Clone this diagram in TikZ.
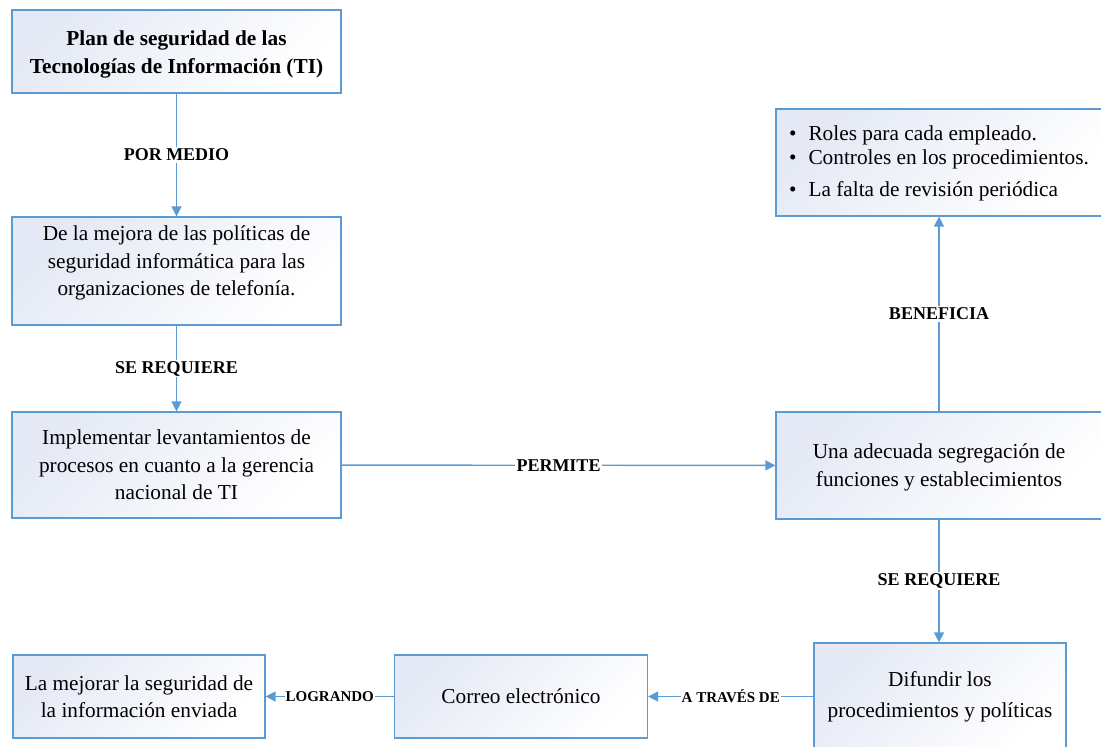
\documentclass[tikz,border=0pt]{standalone}
\usepackage{fontspec}
\setmainfont{Liberation Serif}
\usetikzlibrary{arrows.meta,calc}
\definecolor{edgeblue}{HTML}{5B9BD5}
\definecolor{boxtint}{HTML}{E4E9F5}
\tikzset{
  box/.style={draw=edgeblue, line width=1.2pt, top color=boxtint, bottom color=white,
    shading angle=45, align=center, inner sep=4pt,
    font=\fontsize{21.3}{27.5}\selectfont},
  boxtext/.style={align=center, inner sep=0pt, font=\fontsize{21.3}{27.5}\selectfont},
  link/.style={draw=edgeblue, line width=1.4pt, -{Triangle[length=10pt,width=10pt]}},
  tag/.style={fill=white, inner sep=1.5pt, font=\fontsize{18}{20}\selectfont\bfseries},
  smalltag/.style={fill=white, inner sep=1pt, font=\fontsize{15}{17}\selectfont\bfseries},
}
\begin{document}
\begin{tikzpicture}[x=1pt,y=-1pt]
\useasboundingbox (0,0) rectangle (1101,747);

% left column
\node[box, minimum width=329pt, minimum height=83pt] (plan) at (176.5,51.5) {};
\node[boxtext, font=\fontsize{21.3}{28}\selectfont\bfseries] (plantxt) at ($(plan.center)+(0,3)$)
  {Plan de seguridad de las\\Tecnologías de Información (TI)};
\node[box, minimum width=329pt, minimum height=108pt] (mejora) at (176.5,271) {};
\node[boxtext] (mejoratxt) at ($(mejora.center)+(0,-8)$)
  {De la mejora de las políticas de\\seguridad informática para las\\organizaciones de telefonía.};
\node[box, minimum width=329pt, minimum height=106pt] (impl) at (176.5,465)
  {Implementar levantamientos de\\procesos en cuanto a la gerencia\\nacional de TI};

% right column
\node[box, minimum width=326pt, minimum height=107pt] (segr) at (939,465.5) {};
\node[boxtext] (segrtxt) at ($(segr.center)+(0,2)$)
  {Una adecuada segregación de\\funciones y establecimientos};
\node[box, minimum width=326pt, minimum height=107pt, align=left] (roles) at (939,162.5)
  {\begin{tabular}{@{}l@{\hspace{12pt}}l@{}}
   •&Roles para cada empleado.\\[-3pt]
   •&Controles en los procedimientos.\\[4pt]
   •&La falta de revisión periódica
   \end{tabular}};
\node[box, minimum width=252pt, minimum height=108pt] (difu) at (940,697) {};
\node[boxtext, font=\fontsize{21.3}{31}\selectfont] (difutxt) at (difu.center)
  {Difundir los\\procedimientos y políticas};

% bottom row
\node[box, minimum width=253pt, minimum height=83pt] (corr) at (521,696.5)
  {Correo electrónico};
\node[box, minimum width=252pt, minimum height=83pt] (segur) at (139,696.5)
  {La mejorar la seguridad de\\la información enviada};

% connectors
\draw[link] (plan) -- node[tag] {POR MEDIO} (mejora);
\draw[link] (mejora) -- node[tag] {SE REQUIERE} (impl);
\draw[link] (impl) -- node[tag] {PERMITE} (segr);
\draw[link] (segr) -- node[tag] {BENEFICIA} (roles);
\draw[link] (segr.south) -- node[tag] {SE REQUIERE} (segr.south |- difu.north);
\draw[link] (difu.west |- corr.east) -- node[smalltag] {A TRAVÉS DE} (corr.east);
\draw[link] (corr) -- node[smalltag] {LOGRANDO} (segur);
\end{tikzpicture}
\end{document}
